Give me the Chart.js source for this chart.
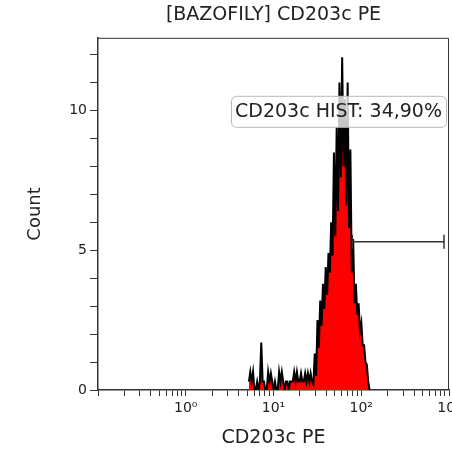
<!DOCTYPE html>
<html>
<head>
<meta charset="utf-8">
<title>[BAZOFILY] CD203c PE</title>
<script src="https://cdn.jsdelivr.net/npm/chart.js@4.4.1/dist/chart.umd.min.js"></script>
<style>
  html, body { margin: 0; padding: 0; background: #fff; overflow: hidden; }
  #wrap { width: 452px; height: 450px; }
</style>
</head>
<body>
<div id="wrap"><canvas id="histChart" width="452" height="450"></canvas></div>
<script>
// channels are log spaced: 64 per decade, the first one at 10^0.72
const firstChannelLog = 0.72;
const channelsPerDecade = 64;

// counts, one per channel
const counts = [
  0.3, 0.65, 0.3, 0.65, 0, 0, 0.3, 0, 0.3, 1.7,
  0.3, 0.3, 0, 0, 0.65, 0.3, 0.6, 0.3, 0, 0.3,
  0, 0, 0.65, 0.3, 0.65, 0.3, 0, 0.3, 0.3, 0,
  0.3, 0.3, 0.3, 0.65, 0.3, 0.65, 0.3, 0.3, 0.6, 0.3,
  0.3, 0.6, 0.3, 0.6, 0.3, 0.6, 0.3, 0.2, 1.3, 0.5,
  2.5, 1.5, 3.2, 2.3, 3.8, 2.9, 4.4, 3.4, 4.9, 4.2,
  6.0, 4.8, 8.5, 5.5, 9.4, 6.4, 11.0, 7.6, 11.9, 8.0,
  10.4, 6.6, 11.0, 5.8, 8.6, 4.2, 5.4, 3.1, 3.8, 2.7,
  3.1, 2.1, 2.4, 1.6, 1.6, 1.0, 0.9, 0.3, 0
];

const xTickValues = [
  0.1, 0.2, 0.3, 0.4, 0.5, 0.6, 0.7, 0.8, 0.9,
  1, 2, 3, 4, 5, 6, 7, 8, 9,
  10, 20, 30, 40, 50, 60, 70, 80, 90,
  100, 200, 300, 400, 500, 600, 700, 800, 900,
  1000
];
const xTickLabels = { 1: "10\u2070", 10: "10\u00B9", 100: "10\u00B2", 1000: "10\u00B3" };
const yTickValues = [0, 1, 2, 3, 4, 5, 6, 7, 8, 9, 10, 11, 12];
const yLabelValues = [0, 5, 10];

const gateRange = [79, 877];
const gateLevel = 5.3;
const gateText = "CD203c HIST: 34,90%";

const histPoints = counts.map((c, i) => ({
  x: Math.pow(10, firstChannelLog + i / channelsPerDecade),
  y: c
}));

const FONT = "'DejaVu Sans', sans-serif";
const INK = "#222";
const AXIS = "#333";

// box round the plot, and the gate's label
const framePlugin = {
  id: "frame",
  afterDatasetsDraw(chart) {
    const a = chart.chartArea;
    const ctx = chart.ctx;
    ctx.save();
    ctx.strokeStyle = AXIS;
    ctx.lineWidth = 1;
    ctx.beginPath();
    ctx.moveTo(a.left, a.top + 0.5);
    ctx.lineTo(a.right - 0.5, a.top + 0.5);
    ctx.lineTo(a.right - 0.5, a.bottom);
    ctx.stroke();

    // label box
    ctx.font = "19px " + FONT;
    const w = ctx.measureText(gateText).width + 8;
    const h = 31;
    const bx = a.right - 3 - w;
    const by = a.top + 58;
    ctx.beginPath();
    ctx.roundRect(bx + 0.5, by + 0.5, w, h, 5);
    ctx.fillStyle = "rgba(255,255,255,0.78)";
    ctx.fill();
    ctx.strokeStyle = "#b8b8b8";
    ctx.stroke();
    ctx.fillStyle = INK;
    ctx.textAlign = "center";
    ctx.textBaseline = "middle";
    ctx.fillText(gateText, bx + w / 2, by + h / 2 + 1);
    ctx.restore();
  }
};

new Chart(document.getElementById("histChart"), {
  type: "line",
  data: {
    datasets: [
      {
        label: "gate",
        data: [{ x: gateRange[0], y: gateLevel }, { x: gateRange[1], y: gateLevel }],
        borderColor: AXIS,
        borderWidth: 1.5,
        pointStyle: "line",
        rotation: 90,
        pointRadius: 7,
        pointBorderColor: AXIS,
        pointBorderWidth: 1.5,
        fill: false,
        order: 0
      },
      {
        label: "CD203c PE",
        data: histPoints,
        borderColor: "#000",
        borderWidth: 2,
        backgroundColor: "#ff0000",
        fill: "origin",
        pointRadius: 0,
        tension: 0,
        order: 1
      }
    ]
  },
  options: {
    responsive: false,
    animation: false,
    events: [],
    layout: { autoPadding: false, padding: { left: 0, right: 3, top: 0, bottom: 0 } },
    plugins: {
      legend: { display: false },
      tooltip: { enabled: false },
      title: {
        display: true,
        text: "[BAZOFILY] CD203c PE",
        fullSize: false,
        color: INK,
        font: { family: FONT, size: 19, weight: "normal" },
        padding: { top: 4, bottom: 11 }
      }
    },
    scales: {
      x: {
        type: "logarithmic",
        min: 0.1,
        max: 1000,
        afterBuildTicks: s => { s.ticks = xTickValues.map(v => ({ value: v })); },
        afterFit: s => { s.height = 60; s.paddingLeft = 0; s.paddingRight = 0; },
        border: { display: true, color: AXIS, width: 1.5 },
        grid: { drawOnChartArea: false, drawTicks: true, tickLength: 6, color: AXIS },
        ticks: {
          autoSkip: false,
          maxRotation: 0,
          padding: 4,
          color: INK,
          font: { family: FONT, size: 14 },
          callback: v => xTickLabels[v] || ""
        },
        title: {
          display: true,
          text: "CD203c PE",
          color: INK,
          font: { family: FONT, size: 19 },
          padding: { top: 0, bottom: 1 }
        }
      },
      y: {
        min: 0,
        max: 12.6,
        afterBuildTicks: s => { s.ticks = yTickValues.map(v => ({ value: v })); },
        afterFit: s => { s.width = 98; s.paddingTop = 0; s.paddingBottom = 0; },
        border: { display: true, color: AXIS, width: 1.5 },
        grid: { drawOnChartArea: false, drawTicks: true, tickLength: 8, color: AXIS },
        ticks: {
          autoSkip: false,
          padding: 3,
          color: INK,
          font: { family: FONT, size: 14 },
          callback: v => (yLabelValues.includes(v) ? String(v) : "")
        },
        title: {
          display: true,
          text: "Count",
          color: INK,
          font: { family: FONT, size: 18 },
          padding: { top: 25 }
        }
      }
    }
  },
  plugins: [framePlugin]
});
</script>
</body>
</html>
